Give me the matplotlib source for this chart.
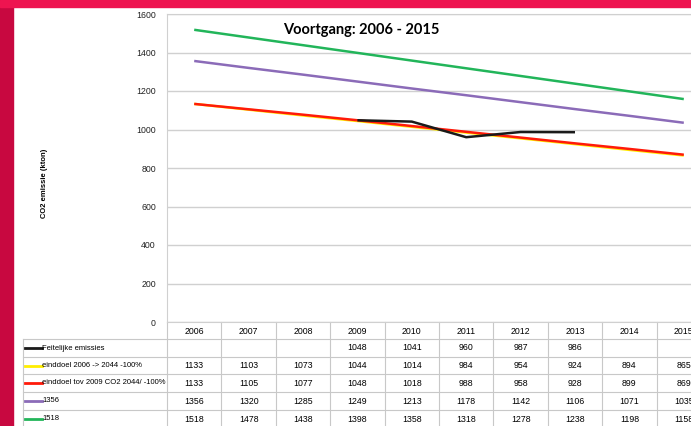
import matplotlib.pyplot as plt
from matplotlib.transforms import blended_transform_factory
from matplotlib.patches import Rectangle

# Data
years = ["2006", "2007", "2008", "2009", "2010", "2011", "2012", "2013", "2014", "2015"]
feitelijk = [None, None, None, 1048, 1041, 960, 987, 986, None, None]
einddoel_2006 = [1133, 1103, 1073, 1044, 1014, 984, 954, 924, 894, 865]
einddoel_2009 = [1133, 1105, 1077, 1048, 1018, 988, 958, 928, 899, 869]
pad_1356 = [1356, 1320, 1285, 1249, 1213, 1178, 1142, 1106, 1071, 1035]
pad_1518 = [1518, 1478, 1438, 1398, 1358, 1318, 1278, 1238, 1198, 1158]

series = [
    ("Feitelijke emissies", feitelijk, "#1a1a1a"),
    ("einddoel 2006 -> 2044 -100%", einddoel_2006, "#FFEE00"),
    ("einddoel tov 2009 CO2 2044/ -100%", einddoel_2009, "#FF1A0A"),
    ("1356", pad_1356, "#8B6BB8"),
    ("1518", pad_1518, "#22B55A"),
]

plt.rcParams["font.family"] = ["Liberation Sans", "DejaVu Sans"]

W, H = 691, 426
fig = plt.figure(figsize=(W / 100, H / 100), dpi=100)

# frame colours
fig.patches.append(Rectangle((0, 0), 13 / W, 1, transform=fig.transFigure, color="#C80840", zorder=0))
fig.patches.append(Rectangle((0, 1 - 7 / H), 1, 7 / H, transform=fig.transFigure, color="#EE1450", zorder=0))

# plot area in pixels (right side runs past the picture edge, as in the reference)
left, right, top, bottom = 167, 711, 14, 322
ax = fig.add_axes([left / W, 1 - bottom / H, (right - left) / W, (bottom - top) / H])
ax.set_xlim(-0.5, 9.5)
ax.set_ylim(0, 1600)
ax.set_yticks(range(0, 1601, 200))
ax.set_xticks([])
ax.grid(axis="y", color="#D0D0D0", lw=1)
ax.set_axisbelow(True)
for s in ax.spines.values():
    s.set_color("#D0D0D0")
ax.tick_params(axis="y", length=0, labelsize=6.3, pad=8, colors="#222222")

x = list(range(len(years)))
draw_order = [4, 3, 1, 2, 0]
for i in draw_order:
    name, vals, col = series[i]
    xs = [xi for xi, v in zip(x, vals) if v is not None]
    ys = [v for v in vals if v is not None]
    ax.plot(xs, ys, color=col, lw=1.8, solid_capstyle="butt")

fig.text(361 / W, 1 - 30 / H, "Voortgang: 2006 - 2015", ha="center", va="center",
         fontsize=10.5, fontweight="bold", family=["Lato", "DejaVu Sans"])
fig.text(45 / W, 1 - 183 / H, "CO2 emissie (kton)", rotation=90, ha="center", va="center",
         fontsize=5.5, fontweight="bold")

# data table below the axes
ph = bottom - top
def yax(py):
    return (bottom - py) / ph

bt = blended_transform_factory(ax.transData, ax.transAxes)
row_edges = [322, 339, 357, 374, 392, 410, 428]
grid_col = "#C8C8C8"
for k in range(len(years) + 1):
    ax.plot([k - 0.5, k - 0.5], [yax(322), yax(430)], color=grid_col, lw=0.8, transform=bt, clip_on=False)
for ry in row_edges[1:]:
    ax.plot([-0.5, 9.5], [yax(ry), yax(ry)], color=grid_col, lw=0.8, transform=bt, clip_on=False)
    ax.plot([(23 - left) / (right - left), 0], [yax(ry), yax(ry)], color=grid_col, lw=0.8,
            transform=ax.transAxes, clip_on=False)
ax.plot([(23 - left) / (right - left)] * 2, [yax(339), yax(430)], color=grid_col, lw=0.8,
        transform=ax.transAxes, clip_on=False)

for xi, yr in zip(x, years):
    ax.text(xi, yax(331), yr, ha="center", va="center", fontsize=6.3, transform=bt, clip_on=False)

for r, (name, vals, col) in enumerate(series):
    yc = yax((row_edges[r + 1] + row_edges[r + 2]) / 2)
    x0 = (25 - left) / (right - left)
    x1 = (42 - left) / (right - left)
    ax.plot([x0, x1], [yc, yc], color=col, lw=2, transform=ax.transAxes, clip_on=False)
    ax.text(x1, yc, name, ha="left", va="center", fontsize=5.5, transform=ax.transAxes, clip_on=False)
    for xi, v in zip(x, vals):
        if v is not None:
            ax.text(xi, yc, str(v), ha="center", va="center", fontsize=6.3, transform=bt, clip_on=False)

fig.savefig("out.png", dpi=100)
